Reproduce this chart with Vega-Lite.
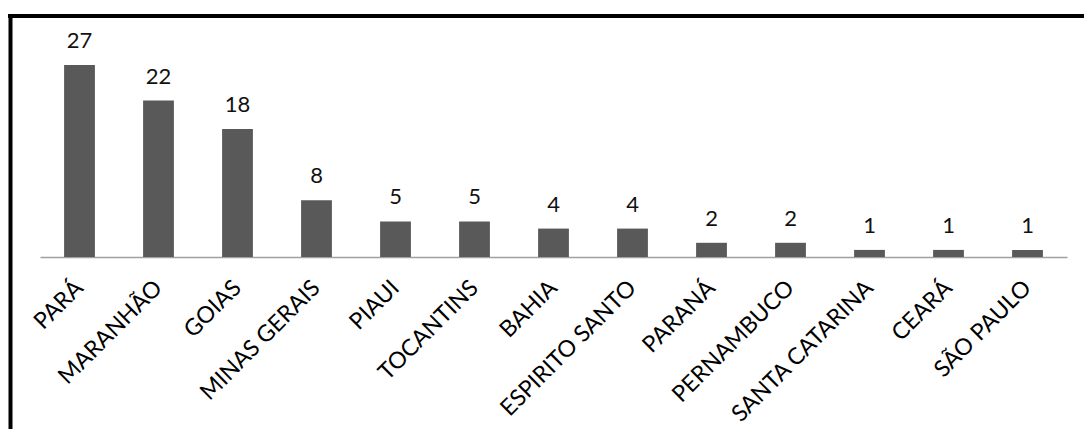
{
  "$schema": "https://vega.github.io/schema/vega-lite/v6.json",
  "width": 1074,
  "height": 413,
  "autosize": {"type": "none"},
  "padding": {"left": 10, "top": 16, "right": 0, "bottom": 0},
  "background": "white",
  "config": {
    "view": {"stroke": null},
    "font": "Lato"
  },
  "data": {
    "values": [
      {"estado": "PARÁ", "valor": 27},
      {"estado": "MARANHÃO", "valor": 22},
      {"estado": "GOIAS", "valor": 18},
      {"estado": "MINAS GERAIS", "valor": 8},
      {"estado": "PIAUI", "valor": 5},
      {"estado": "TOCANTINS", "valor": 5},
      {"estado": "BAHIA", "valor": 4},
      {"estado": "ESPIRITO SANTO", "valor": 4},
      {"estado": "PARANÁ", "valor": 2},
      {"estado": "PERNAMBUCO", "valor": 2},
      {"estado": "SANTA CATARINA", "valor": 1},
      {"estado": "CEARÁ", "valor": 1},
      {"estado": "SÃO PAULO", "valor": 1}
    ]
  },
  "layer": [
    {
      "mark": {"type": "bar", "color": "#595959"},
      "encoding": {
        "x": {
          "field": "estado",
          "type": "nominal",
          "sort": null,
          "scale": {"range": [30, 1057], "paddingInner": 0.61, "paddingOuter": 0.305},
          "axis": {
            "title": null,
            "orient": "bottom",
            "offset": -172,
            "labelAngle": -45,
            "labelAlign": "right",
            "labelBaseline": "middle",
            "labelPadding": 27,
            "labelFont": "Lato",
            "labelFontSize": 23,
            "labelLimit": 500,
            "labelColor": "black",
            "labelOverlap": false,
            "ticks": false,
            "domainColor": "#a0a0a0",
            "domainWidth": 1.5,
            "grid": false
          }
        },
        "y": {
          "field": "valor",
          "type": "quantitative",
          "scale": {"domain": [-24.19, 33.9], "nice": false, "zero": false},
          "axis": {
            "title": null,
            "orient": "left",
            "labels": false,
            "ticks": false,
            "grid": false,
            "domain": true,
            "domainColor": "black",
            "domainWidth": 4,
            "domainCap": "square"
          }
        },
        "y2": {"datum": 0}
      }
    },
    {
      "mark": {"type": "text", "baseline": "alphabetic", "dy": -17, "font": "Lato", "fontSize": 22, "color": "#111111"},
      "encoding": {
        "x": {"field": "estado", "type": "nominal", "sort": null},
        "y": {"field": "valor", "type": "quantitative"},
        "text": {"field": "valor", "type": "quantitative"}
      }
    },
    {
      "mark": {"type": "rule", "color": "black", "strokeWidth": 4, "strokeCap": "square"},
      "encoding": {
        "y": {"datum": 33.9}
      }
    }
  ]
}
